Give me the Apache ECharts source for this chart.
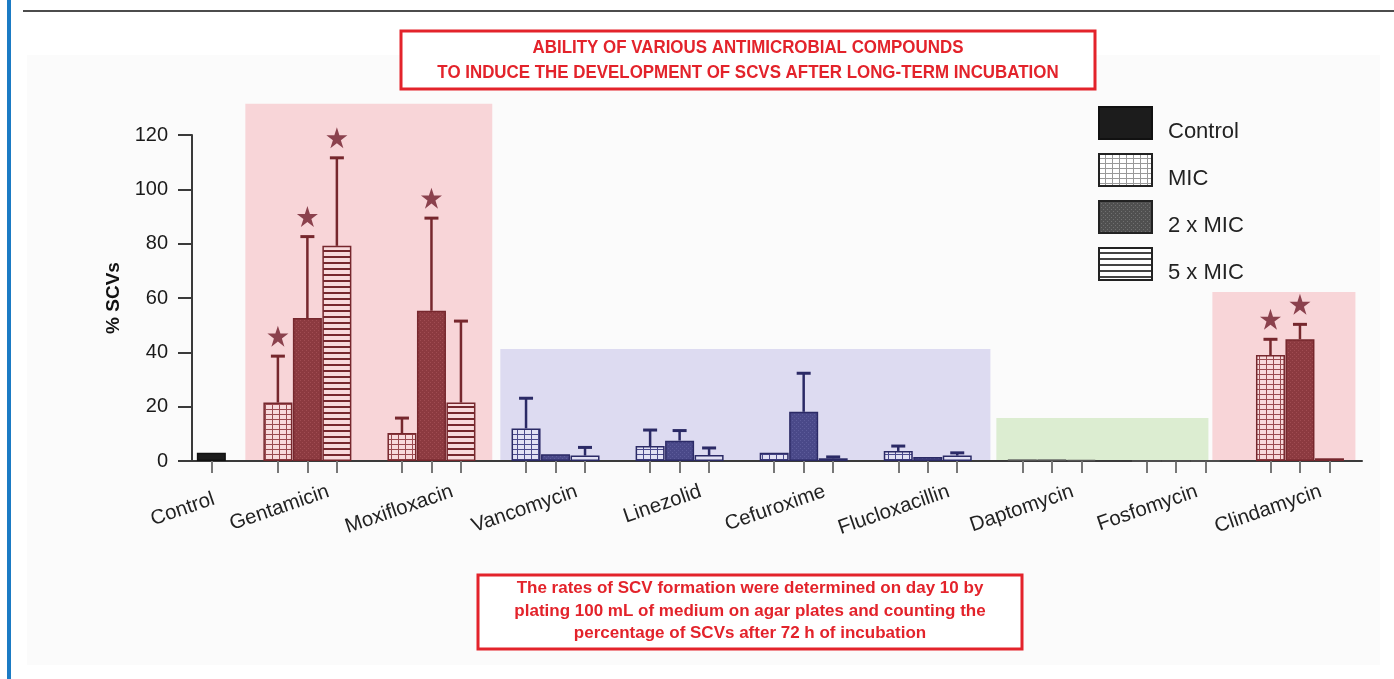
<!DOCTYPE html>
<html>
<head>
<meta charset="utf-8">
<title>SCV formation</title>
<script src="https://cdn.jsdelivr.net/npm/echarts@6/dist/echarts.min.js"></script>
<style>
  html, body { margin: 0; padding: 0; background: #fff; }
  #chart { width: 1394px; height: 679px; }
</style>
</head>
<body>
<div id="chart"></div>
<script>
  // drugs in plot order, Control has a single bar
  var drugs = ['Control', 'Gentamicin', 'Moxifloxacin', 'Vancomycin', 'Linezolid', 'Cefuroxime', 'Flucloxacillin', 'Daptomycin', 'Fosfomycin', 'Clindamycin']
  // where each drug sits on the x axis (Control is closer to the y axis)
  var drugPos = [0.226, 1, 2, 3, 4, 5, 6, 7, 8, 9]
  // colour family of each drug
  var drugTone = ['black', 'red', 'red', 'blue', 'blue', 'blue', 'blue', 'green', 'green', 'red']

  var controlMean = 3

  // % SCVs for drugs[1..9], mean and top of error bar
  var micMean = [21.5, 10.3, 12, 5.5, 3, 3.7, 0.6, 0, 39]
  var micErr = [38.6, 15.8, 23.1, 11.4, 3, 5.5, 0.6, 0, 44.8]
  var mic2Mean = [52.6, 55.3, 2.5, 7.5, 18.1, 1.5, 0.6, 0, 44.8]
  var mic2Err = [82.6, 89.4, 2.5, 11.2, 32.3, 1.5, 0.6, 0, 50.3]
  var mic5Mean = [79.2, 21.5, 2, 2.2, 1, 2, 0.4, 0, 1]
  var mic5Err = [111.6, 51.5, 5, 4.8, 1.5, 3, 0.4, 0, 1]
  // significance stars (1 = star)
  var micSig = [1, 0, 0, 0, 0, 0, 0, 0, 1]
  var mic2Sig = [1, 1, 0, 0, 0, 0, 0, 0, 1]
  var mic5Sig = [1, 0, 0, 0, 0, 0, 0, 0, 0]

  // shaded boxes behind the groups: [from x, to x, top %, tone]
  var shades = [
    [0.5, 2.49, 131.5, 'red'],
    [2.555, 6.505, 41.2, 'blue'],
    [6.553, 8.262, 15.8, 'green'],
    [8.294, 9.447, 62.2, 'red']
  ]

  var tones = {
    red: { shade: '#f8d5d8', border: '#76272d', light: '#f8dadc', line: '#9a4a50', dark: '#8c3a40', dot: '#a04c52' },
    blue: { shade: '#dddbf1', border: '#2b2a66', light: '#e2e1f4', line: '#4b4a8c', dark: '#4a4989', dot: '#5c5b9a' },
    green: { shade: '#dcedd1', border: '#555555', light: '#e6f0de', line: '#666', dark: '#666', dot: '#777' },
    black: { shade: '#fff', border: '#111', light: '#1c1c1c', line: '#1c1c1c', dark: '#1c1c1c', dot: '#1c1c1c' }
  }
  var toneNames = ['red', 'blue', 'green', 'black']
  var step = 0.2377

  function pattern(bg, fg, kind) {
    var c = document.createElement('canvas')
    var ctx
    if (kind === 'grid') {
      c.width = 7; c.height = 5
      ctx = c.getContext('2d')
      ctx.fillStyle = bg; ctx.fillRect(0, 0, 7, 5)
      ctx.fillStyle = fg; ctx.fillRect(0, 4, 7, 1); ctx.fillRect(6, 0, 1, 5)
    } else if (kind === 'lines') {
      c.width = 4; c.height = 6
      ctx = c.getContext('2d')
      ctx.fillStyle = bg; ctx.fillRect(0, 0, 4, 6)
      ctx.fillStyle = fg; ctx.fillRect(0, 4, 4, 2)
    } else {
      c.width = 4; c.height = 4
      ctx = c.getContext('2d')
      ctx.fillStyle = bg; ctx.fillRect(0, 0, 4, 4)
      ctx.fillStyle = fg; ctx.fillRect(0, 0, 1, 1); ctx.fillRect(2, 2, 1, 1)
    }
    return { image: c, repeat: 'repeat' }
  }

  function fillFor(tone, kind) {
    var t = tones[tone]
    if (tone === 'black') return t.light
    if (kind === 'grid') return pattern(t.light, t.line, 'grid')
    if (kind === 'lines') return pattern(t.light, t.border, 'lines')
    return pattern(t.dark, t.dot, 'dots')
  }

  function barData(means, k, kind) {
    return means.map(function (v, i) {
      var tone = drugTone[i + 1]
      return {
        value: [drugPos[i + 1] + (k - 1) * step, v],
        itemStyle: { color: fillFor(tone, kind), borderColor: tones[tone].border }
      }
    })
  }

  function errData(means, errs, k) {
    return means.map(function (v, i) {
      return [drugPos[i + 1] + (k - 1) * step, v, errs[i], toneNames.indexOf(drugTone[i + 1])]
    })
  }

  function starData(errs, sig, k) {
    var out = []
    sig.forEach(function (s, i) {
      if (s) out.push([drugPos[i + 1] + (k - 1) * step, errs[i]])
    })
    return out
  }

  var tickAt = [drugPos[0]]
  drugPos.slice(1).forEach(function (p) { tickAt.push(p - step, p, p + step) })
  var labelAt = drugPos.map(function (p, i) { return p + (i === 0 ? 0 : 0.17) })

  var allErr = errData(micMean, micErr, 0).concat(errData(mic2Mean, mic2Err, 1), errData(mic5Mean, mic5Err, 2))
  var allStars = starData(micErr, micSig, 0).concat(starData(mic2Err, mic2Sig, 1), starData(mic5Err, mic5Sig, 2))

  var font = 'Liberation Sans, Arial, sans-serif'
  var red = '#e3232b'
  var starPath = 'path://M50,0 L62,36 L100,36 L69,58 L81,95 L50,72 L19,95 L31,58 L0,36 L38,36 Z'

  var barBase = { type: 'bar', barWidth: 29, barGap: '-100%', z: 3 }

  var chart = echarts.init(document.getElementById('chart'))
  chart.setOption({
    backgroundColor: '#fff',
    animation: false,
    textStyle: { fontFamily: font },
    grid: { left: 192, right: 32, top: 135, bottom: 218 },
    legend: {
      orient: 'vertical',
      left: 1098,
      top: 103,
      padding: 0,
      itemWidth: 53,
      itemHeight: 32,
      itemGap: 7,
      selectedMode: false,
      icon: 'rect',
      formatter: '{t|{name}}',
      textStyle: {
        fontSize: 22, color: '#222', fontFamily: font,
        rich: { t: { fontSize: 22, lineHeight: 22, color: '#222', fontFamily: font, padding: [18, 0, 0, 11] } }
      },
      data: ['Control', 'MIC', '2 x MIC', '5 x MIC']
    },
    xAxis: {
      type: 'value',
      min: 0.07,
      max: 9.5,
      splitLine: { show: false },
      axisLine: { show: true, lineStyle: { color: '#3a3a3a', width: 2 } },
      axisTick: { show: true, customValues: tickAt, length: 12, lineStyle: { color: '#777', width: 2 } },
      axisLabel: {
        customValues: labelAt,
        rotate: 19,
        margin: 30,
        fontSize: 20.5,
        color: '#222',
        fontFamily: font,
        rich: { low: { fontSize: 20.5, color: '#222', fontFamily: font, padding: [16, 0, 0, 0] } },
        formatter: function (v) {
          var best = 0
          labelAt.forEach(function (p, i) { if (Math.abs(p - v) < Math.abs(labelAt[best] - v)) best = i })
          return best === 0 ? '{low|' + drugs[best] + '}' : drugs[best]
        }
      }
    },
    yAxis: {
      type: 'value',
      min: 0,
      max: 120,
      interval: 20,
      name: '% SCVs',
      nameLocation: 'middle',
      nameRotate: 90,
      nameGap: 69,
      nameTextStyle: { fontSize: 19, fontWeight: 'bold', color: '#111', fontFamily: font },
      splitLine: { show: false },
      axisLine: { show: true, lineStyle: { color: '#3a3a3a', width: 2 } },
      axisTick: { show: true, length: 14, lineStyle: { color: '#3a3a3a', width: 2 } },
      axisLabel: { fontSize: 20, color: '#1a1a1a', margin: 24, fontFamily: font }
    },
    graphic: [
      { type: 'rect', z: -20, shape: { x: 27, y: 55, width: 1353, height: 610 }, style: { fill: '#fbfbfb' }, silent: true },
      { type: 'rect', z: 10, shape: { x: 7, y: 0, width: 4, height: 679 }, style: { fill: '#1b7bc4' } },
      { type: 'line', z: 10, shape: { x1: 23, y1: 11, x2: 1394, y2: 11 }, style: { stroke: '#111', lineWidth: 1.5 } },
      { type: 'rect', z: 10, shape: { x: 401, y: 31, width: 694, height: 58 }, style: { fill: '#fff', stroke: red, lineWidth: 3 } },
      {
        type: 'text', z: 11, x: 748, y: 60, scaleX: 0.89,
        style: {
          text: 'ABILITY OF VARIOUS ANTIMICROBIAL COMPOUNDS\nTO INDUCE THE DEVELOPMENT OF SCVS AFTER LONG-TERM INCUBATION',
          align: 'center', verticalAlign: 'middle', fill: red, lineHeight: 25,
          fontSize: 19, fontWeight: 'bold', fontFamily: font
        }
      },
      { type: 'rect', z: 10, shape: { x: 478, y: 575, width: 544, height: 74 }, style: { fill: '#fff', stroke: red, lineWidth: 3 } },
      {
        type: 'text', z: 11, x: 750, y: 611,
        style: {
          text: 'The rates of SCV formation were determined on day 10 by\nplating 100 mL of medium on agar plates and counting the\npercentage of SCVs after 72 h of incubation',
          align: 'center', verticalAlign: 'middle', fill: red, lineHeight: 22.5,
          fontSize: 17, fontWeight: 'bold', fontFamily: font
        }
      }
    ],
    series: [
      {
        name: 'shade',
        type: 'custom',
        z: -1,
        silent: true,
        data: shades.map(function (s) { return [s[0], s[1], s[2], toneNames.indexOf(s[3])] }),
        encode: { x: [0, 1], y: 2 },
        renderItem: function (params, api) {
          var a = api.coord([api.value(0), api.value(2)])
          var b = api.coord([api.value(1), 0])
          return {
            type: 'rect',
            shape: { x: a[0], y: a[1], width: b[0] - a[0], height: b[1] - a[1] },
            style: { fill: tones[toneNames[api.value(3)]].shade }
          }
        }
      },
      Object.assign({}, barBase, {
        name: 'Control',
        itemStyle: { color: '#1c1c1c', borderColor: '#111', borderWidth: 1.5 },
        data: [[drugPos[0], controlMean]]
      }),
      Object.assign({}, barBase, {
        name: 'MIC',
        itemStyle: { color: pattern('#fff', '#999', 'grid'), borderColor: '#222', borderWidth: 1.5 },
        data: barData(micMean, 0, 'grid')
      }),
      Object.assign({}, barBase, {
        name: '2 x MIC',
        itemStyle: { color: pattern('#505050', '#707070', 'dots'), borderColor: '#222', borderWidth: 1.5 },
        data: barData(mic2Mean, 1, 'dots')
      }),
      Object.assign({}, barBase, {
        name: '5 x MIC',
        itemStyle: { color: pattern('#fff', '#444', 'lines'), borderColor: '#222', borderWidth: 1.5 },
        data: barData(mic5Mean, 2, 'lines')
      }),
      {
        name: 'err',
        type: 'custom',
        z: 4,
        silent: true,
        data: allErr,
        encode: { x: 0, y: [1, 2] },
        renderItem: function (params, api) {
          var x = api.value(0)
          var lo = api.coord([x, api.value(1)])
          var hi = api.coord([x, api.value(2)])
          if (lo[1] - hi[1] < 1) return
          var col = tones[toneNames[api.value(3)]].border
          return {
            type: 'group',
            children: [
              { type: 'line', shape: { x1: lo[0], y1: lo[1], x2: hi[0], y2: hi[1] }, style: { stroke: col, lineWidth: 2.5 } },
              { type: 'line', shape: { x1: hi[0] - 7, y1: hi[1], x2: hi[0] + 7, y2: hi[1] }, style: { stroke: col, lineWidth: 3 } }
            ]
          }
        }
      },
      {
        name: 'stars',
        type: 'scatter',
        z: 5,
        silent: true,
        symbol: starPath,
        symbolSize: 21,
        symbolOffset: [0, -20],
        itemStyle: { color: '#6f1c2a' },
        data: allStars
      }
    ]
  })
</script>
</body>
</html>
